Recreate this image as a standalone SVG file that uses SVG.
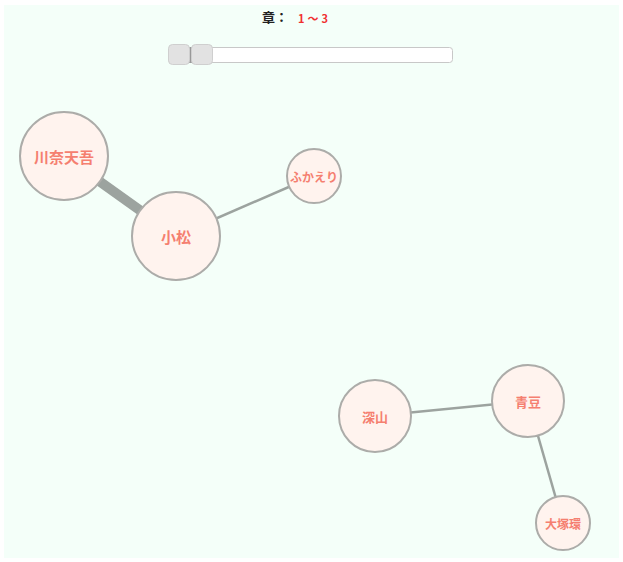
<svg xmlns="http://www.w3.org/2000/svg" width="623" height="562" viewBox="0 0 623 562">
  <style>
    .node circle { fill: #fff3ee; stroke: #acaca9; stroke-width: 2; }
    .node text { fill: #f57f70; font-family: "Noto Sans CJK JP", "Noto Sans", sans-serif; font-weight: bold; text-anchor: middle; dominant-baseline: central; }
    .link { stroke: #9ca39f; fill: none; }
    .handle { fill: #e2e2e2; stroke: #cfcfcf; stroke-width: 1; }
  </style>
  <rect x="0" y="0" width="623" height="562" fill="#ffffff"/>
  <rect x="4" y="5" width="615" height="553" fill="#f4fff9"/>

  <!-- chapter range control -->
  <g id="chapter-control">
    <text x="275" y="22" font-family="Noto Sans CJK JP, sans-serif" font-size="13" font-weight="bold" fill="#222" text-anchor="middle">章：</text>
    <text x="298" y="23" font-family="Noto Sans CJK JP, sans-serif" font-size="11" font-weight="bold" fill="#f03030" textLength="30" lengthAdjust="spacing">1～3</text>
    <rect x="168.5" y="47.5" width="284" height="15" rx="3" fill="#ffffff" stroke="#c8c8c8" stroke-width="1"/>
    <rect x="188" y="47" width="4" height="16" fill="#999"/>
    <rect class="handle" x="168.5" y="44.5" width="21" height="20" rx="4"/>
    <rect class="handle" x="191.5" y="44.5" width="21" height="20" rx="4"/>
  </g>

  <g id="links">
    <line class="link" x1="64" y1="156" x2="176" y2="236" stroke-width="10"/>
    <line class="link" x1="176" y1="236" x2="314" y2="176" stroke-width="2.5"/>
    <line class="link" x1="375" y1="416" x2="528" y2="401" stroke-width="2.5"/>
    <line class="link" x1="528" y1="401" x2="563" y2="523" stroke-width="2.5"/>
  </g>

  <g id="node-tengo" class="node">
    <circle cx="64" cy="156" r="44"/>
    <text x="64" y="156" font-size="15">川奈天吾</text>
  </g>
  <g id="node-komatsu" class="node">
    <circle cx="176" cy="236" r="44"/>
    <text x="176" y="236" font-size="15">小松</text>
  </g>
  <g id="node-fukaeri" class="node">
    <circle cx="314" cy="176" r="27"/>
    <text x="314" y="176" font-size="12">ふかえり</text>
  </g>
  <g id="node-miyama" class="node">
    <circle cx="375" cy="416" r="36"/>
    <text x="375" y="416" font-size="13">深山</text>
  </g>
  <g id="node-aomame" class="node">
    <circle cx="528" cy="401" r="36"/>
    <text x="528" y="401" font-size="13">青豆</text>
  </g>
  <g id="node-otsuka" class="node">
    <circle cx="563" cy="523" r="27"/>
    <text x="563" y="523" font-size="12">大塚環</text>
  </g>
</svg>
